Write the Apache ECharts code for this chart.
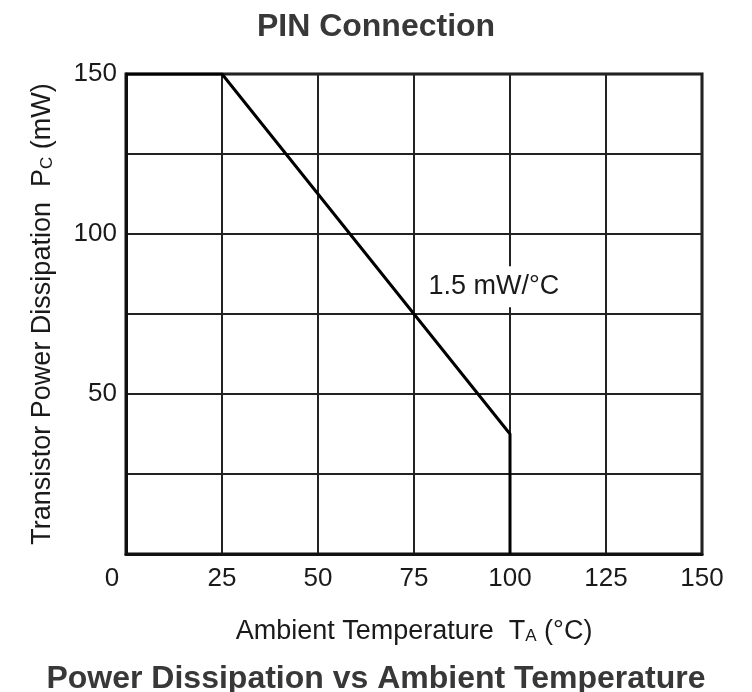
<!DOCTYPE html>
<html>
<head>
<meta charset="utf-8">
<script src="https://cdn.jsdelivr.net/npm/echarts@6/dist/echarts.min.js"></script>
<style>
  html, body { margin: 0; padding: 0; background: #fff; }
  #chart { width: 752px; height: 692px; }
</style>
</head>
<body>
<div id="chart"></div>
<script>
// derating curve
var tempPoints = [0, 25, 100, 100];     // Ta (°C)
var powerPoints = [150, 150, 37.5, 0];  // Pc (mW)
var xTicks = [0, 25, 50, 75, 100, 125, 150];
var yTicksShown = [50, 100, 150];
var slopeNote = { text: "1.5 mW/°C", x: 95.8, y: 83.5 };

var curve = tempPoints.map(function (t, i) {
  return [t, powerPoints[i]];
});

var chart = echarts.init(document.getElementById("chart"));

var textFont = "Liberation Sans, Arial, Helvetica, sans-serif";

chart.setOption({
  animation: false,
  backgroundColor: "#fff",
  title: [
    {
      text: "PIN Connection",
      left: "center",
      top: 6,
      textStyle: { fontSize: 32, fontWeight: "bold", color: "#383838", fontFamily: textFont }
    },
    {
      text: "Power Dissipation vs Ambient Temperature",
      left: "center",
      top: 658,
      textStyle: { fontSize: 32, fontWeight: "bold", color: "#383838", fontFamily: textFont }
    }
  ],
  grid: {
    left: 126,
    right: 50,
    top: 74,
    bottom: 138,
    show: true,
    borderColor: "#111",
    borderWidth: 3,
    backgroundColor: "#fff"
  },
  xAxis: {
    type: "value",
    min: xTicks[0],
    max: xTicks[xTicks.length - 1],
    interval: 25,
    name: "Ambient Temperature  T{sub|A} (°C)",
    nameLocation: "middle",
    nameGap: 64,
    nameTextStyle: {
      fontSize: 27,
      color: "#1a1a1a",
      fontFamily: textFont,
      rich: { sub: { fontSize: 17, color: "#1a1a1a", fontFamily: textFont, verticalAlign: "bottom" } }
    },
    axisLine: { show: true, lineStyle: { color: "#111", width: 3 } },
    axisTick: { show: false },
    axisLabel: {
      margin: 12,
      fontSize: 26,
      color: "#1a1a1a",
      fontFamily: textFont,
      formatter: function (v) {
        return v === 0 ? "{z|0}" : String(v);
      },
      rich: { z: { fontSize: 26, color: "#1a1a1a", fontFamily: textFont, padding: [0, 28, 0, 0] } }
    },
    splitLine: { show: true, lineStyle: { color: "#222", width: 2 } }
  },
  yAxis: {
    type: "value",
    min: 0,
    max: 150,
    interval: 25,
    name: "Transistor Power Dissipation  P{sub|C} (mW)",
    nameLocation: "middle",
    nameGap: 70,
    nameTextStyle: {
      fontSize: 27,
      color: "#1a1a1a",
      fontFamily: textFont,
      rich: { sub: { fontSize: 17, color: "#1a1a1a", fontFamily: textFont, verticalAlign: "bottom" } }
    },
    axisLine: { show: true, lineStyle: { color: "#111", width: 3 } },
    axisTick: { show: false },
    axisLabel: {
      margin: 9,
      fontSize: 26,
      color: "#1a1a1a",
      fontFamily: textFont,
      formatter: function (v) {
        return yTicksShown.indexOf(v) >= 0 ? String(v) : "";
      }
    },
    splitLine: { show: true, lineStyle: { color: "#222", width: 2 } }
  },
  series: [
    {
      type: "line",
      data: curve,
      symbol: "none",
      lineStyle: { color: "#000", width: 3 },
      z: 3,
      markPoint: {
        symbol: "circle",
        symbolSize: 0,
        data: [
          {
            coord: [slopeNote.x, slopeNote.y],
            label: {
              show: true,
              position: "inside",
              formatter: slopeNote.text,
              fontSize: 27,
              color: "#1a1a1a",
              fontFamily: textFont,
              backgroundColor: "#fff",
              padding: [8, 2, 6, 2]
            }
          }
        ]
      }
    }
  ]
});
</script>
</body>
</html>
